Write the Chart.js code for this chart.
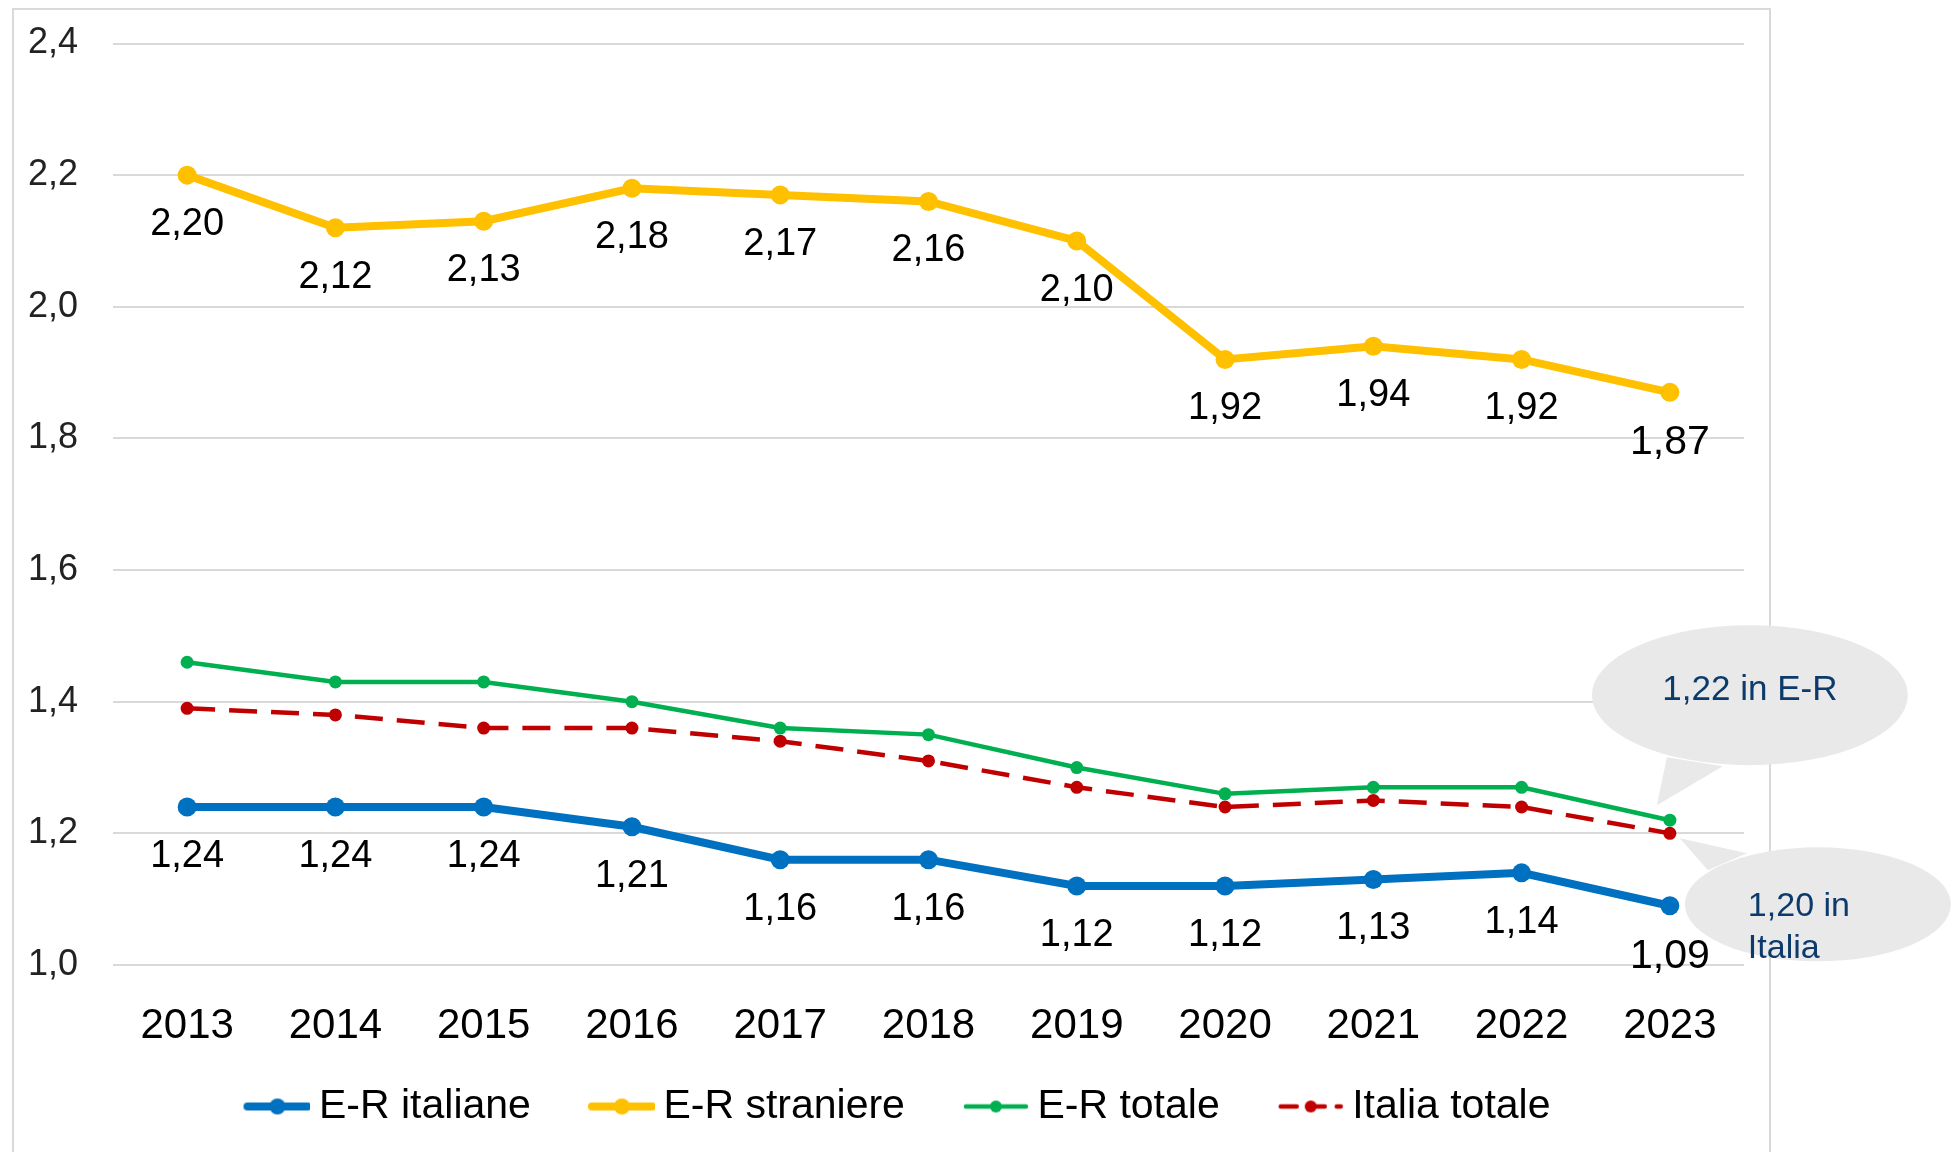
<!DOCTYPE html>
<html>
<head>
<meta charset="utf-8">
<script src="https://cdn.jsdelivr.net/npm/chart.js@4.4.1/dist/chart.umd.min.js"></script>
<style>
  html, body { margin: 0; padding: 0; background: #fff; }
  #wrap { width: 1951px; height: 1152px; }
</style>
</head>
<body>
<div id="wrap"><canvas id="fertChart" width="1951" height="1152"></canvas></div>
<script>
// Data
const years = ['2013', '2014', '2015', '2016', '2017', '2018', '2019', '2020', '2021', '2022', '2023'];
const erItaliane = [1.24, 1.24, 1.24, 1.21, 1.16, 1.16, 1.12, 1.12, 1.13, 1.14, 1.09];
const erStraniere = [2.20, 2.12, 2.13, 2.18, 2.17, 2.16, 2.10, 1.92, 1.94, 1.92, 1.87];
const erTotale = [1.46, 1.43, 1.43, 1.40, 1.36, 1.35, 1.30, 1.26, 1.27, 1.27, 1.22];
const italiaTotale = [1.39, 1.38, 1.36, 1.36, 1.34, 1.31, 1.27, 1.24, 1.25, 1.24, 1.20];
const seriesNames = ['E-R italiane', 'E-R straniere', 'E-R totale', 'Italia totale'];
const yTicks = [1.0, 1.2, 1.4, 1.6, 1.8, 2.0, 2.2, 2.4];
const calloutER = ['1,22 in E-R'];
const calloutItalia = ['1,20 in', 'Italia'];

const FONT = "'Liberation Sans', Arial, sans-serif";
const fmt2 = v => v.toFixed(2).replace('.', ',');

// legend symbol: line + dot, drawn at the right side of a wider transparent canvas
// (box is 77 wide, image 101 so the line ends close to the text)
const ICON_BOX = 77;
function legendIcon(color, width, radius, dash) {
  const c = document.createElement('canvas');
  c.width = ICON_BOX + 24;
  c.height = 22;
  const g = c.getContext('2d');
  const x0 = c.width - 66;
  g.strokeStyle = color;
  g.lineWidth = width;
  g.lineCap = 'round';
  if (dash) g.setLineDash(dash);
  g.beginPath();
  g.moveTo(x0 + 3, 11);
  g.lineTo(x0 + 63, 11);
  g.stroke();
  g.fillStyle = color;
  g.beginPath();
  g.arc(x0 + 33, 11, radius, 0, Math.PI * 2);
  g.fill();
  return c;
}

// value labels under the points (only some series)
const valueLabels = {
  id: 'valueLabels',
  afterDatasetsDraw(chart) {
    const ctx = chart.ctx;
    chart.data.datasets.forEach((ds, i) => {
      if (!ds.showValues) return;
      const meta = chart.getDatasetMeta(i);
      meta.data.forEach((pt, j) => {
        const last = j === ds.data.length - 1;
        ctx.save();
        ctx.font = (last ? 41 : 38) + 'px ' + FONT;
        ctx.fillStyle = '#000';
        ctx.textAlign = 'center';
        ctx.textBaseline = 'alphabetic';
        ctx.fillText(fmt2(ds.data[j]), pt.x, pt.y + (last ? 62 : 60));
        ctx.restore();
      });
    });
  }
};

// grey speech bubbles on the last year
function bubble(ctx, tip, b1, b2, cx, cy, rx, ry) {
  ctx.fillStyle = '#e9e9e9';
  ctx.beginPath();
  ctx.ellipse(cx, cy, rx, ry, 0, 0, Math.PI * 2);
  ctx.fill();
  ctx.beginPath();
  ctx.moveTo(tip[0], tip[1]);
  ctx.lineTo(b1[0], b1[1]);
  ctx.lineTo(b2[0], b2[1]);
  ctx.closePath();
  ctx.fill();
}

const callouts = {
  id: 'callouts',
  afterDatasetsDraw(chart) {
    const ctx = chart.ctx;
    const last = years.length - 1;
    const g = chart.getDatasetMeta(2).data[last];
    const r = chart.getDatasetMeta(3).data[last];
    ctx.save();
    bubble(ctx, [g.x - 13, g.y - 15], [g.x - 3, g.y - 63], [g.x + 53, g.y - 54], g.x + 80, g.y - 125, 158, 70);
    ctx.fillStyle = '#0b3a6b';
    ctx.font = '35px ' + FONT;
    ctx.textAlign = 'center';
    ctx.fillText(calloutER[0], g.x + 80, g.y - 130);

    bubble(ctx, [r.x + 10, r.y + 5], [r.x + 38, r.y + 37], [r.x + 77, r.y + 20], r.x + 148, r.y + 71, 133, 57);
    ctx.fillStyle = '#0b3a6b';
    ctx.font = '34px ' + FONT;
    ctx.textAlign = 'left';
    ctx.fillText(calloutItalia[0], r.x + 78, r.y + 73);
    ctx.fillText(calloutItalia[1], r.x + 78, r.y + 115);
    ctx.restore();
  }
};

// light frame round the plot
const frame = {
  id: 'frame',
  beforeDraw(chart) {
    const ctx = chart.ctx;
    ctx.save();
    ctx.strokeStyle = '#d9d9d9';
    ctx.lineWidth = 2;
    ctx.strokeRect(13, 9, 1757, 1160);
    ctx.restore();
  }
};

const icons = [
  legendIcon('#0070C0', 8, 8),
  legendIcon('#FFC000', 8, 8),
  legendIcon('#00B050', 4.5, 6),
  legendIcon('#C00000', 4.5, 6, [16, 12])
];

const ctx = document.getElementById('fertChart').getContext('2d');
new Chart(ctx, {
  type: 'line',
  data: {
    labels: years,
    datasets: [
      {
        label: seriesNames[0],
        data: erItaliane,
        borderColor: '#0070C0',
        backgroundColor: '#0070C0',
        borderWidth: 8,
        pointRadius: 9.5,
        pointBorderWidth: 0,
        showValues: true
      },
      {
        label: seriesNames[1],
        data: erStraniere,
        borderColor: '#FFC000',
        backgroundColor: '#FFC000',
        borderWidth: 8,
        pointRadius: 9.5,
        pointBorderWidth: 0,
        showValues: true
      },
      {
        label: seriesNames[2],
        data: erTotale,
        borderColor: '#00B050',
        backgroundColor: '#00B050',
        borderWidth: 4.5,
        pointRadius: 6.5,
        pointBorderWidth: 0
      },
      {
        label: seriesNames[3],
        data: italiaTotale,
        borderColor: '#C00000',
        backgroundColor: '#C00000',
        borderWidth: 4.5,
        borderDash: [28, 14],
        pointRadius: 6.5,
        pointBorderWidth: 0
      }
    ]
  },
  options: {
    responsive: false,
    animation: false,
    devicePixelRatio: 1,
    layout: { padding: { left: 28, right: 207, top: 43.5, bottom: 15 } },
    scales: {
      x: {
        offset: true,
        grid: { display: false, drawTicks: false },
        border: { display: false },
        ticks: { color: '#000', font: { family: FONT, size: 42 }, padding: 36, maxRotation: 0 },
        afterFit(scale) { scale.height = 86; }
      },
      y: {
        min: 1.0,
        max: 2.4,
        afterBuildTicks(scale) { scale.ticks = yTicks.map(v => ({ value: v })); },
        grid: { color: '#d9d9d9', lineWidth: 2, drawTicks: false },
        border: { display: false },
        ticks: {
          color: '#222',
          font: { family: FONT, size: 36 },
          padding: 0,
          crossAlign: 'far',
          callback: v => v.toFixed(1).replace('.', ',')
        },
        afterFit(scale) { scale.width = 85; }
      }
    },
    plugins: {
      tooltip: { enabled: false },
      legend: {
        position: 'bottom',
        labels: {
          color: '#000',
          font: { family: FONT, size: 41 },
          usePointStyle: true,
          pointStyleWidth: ICON_BOX,
          padding: 35,
          generateLabels(chart) {
            const items = Chart.defaults.plugins.legend.labels.generateLabels(chart);
            items.forEach((it, i) => { it.pointStyle = icons[i]; });
            return items;
          }
        }
      }
    }
  },
  plugins: [frame, valueLabels, callouts]
});
</script>
</body>
</html>
